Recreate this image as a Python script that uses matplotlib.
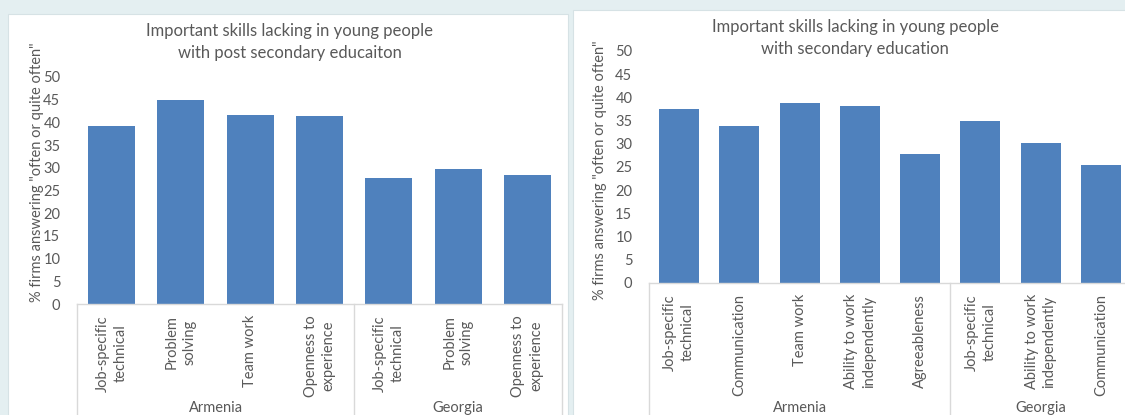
import matplotlib.pyplot as plt
from matplotlib.patches import Rectangle
import matplotlib.transforms as mtransforms

plt.rcParams['font.family'] = ['Lato', 'DejaVu Sans']

# post secondary chart
post_labels = ['Job-specific\ntechnical', 'Problem\nsolving', 'Team work', 'Openness to\nexperience',
               'Job-specific\ntechnical', 'Problem\nsolving', 'Openness to\nexperience']
post_values = [39.3, 45.0, 41.6, 41.4, 27.7, 29.8, 28.4]
post_groups = ['Armenia', 'Georgia']
post_group_sizes = [4, 3]

# secondary chart
sec_labels = ['Job-specific\ntechnical', 'Communication', 'Team work', 'Ability to work\nindependently',
              'Agreeableness', 'Job-specific\ntechnical', 'Ability to work\nindependently', 'Communication']
sec_values = [37.5, 33.9, 38.7, 38.2, 27.9, 34.9, 30.2, 25.5]
sec_groups = ['Armenia', 'Georgia']
sec_group_sizes = [5, 3]

ylabel = '% firms answering "often or quite often"'
BAR = '#4f81bd'
TXT = '#595959'
GRID = '#d9d9d9'
BG = '#e4eff1'

W, H = 1125, 415
fig = plt.figure(figsize=(W / 100, H / 100), dpi=100, facecolor=BG)


def px_rect(x0, y0, x1, y1):
    # pixel box (top-left origin) -> figure fraction [l, b, w, h]
    return [x0 / W, 1 - y1 / H, (x1 - x0) / W, (y1 - y0) / H]


# white panels
for x0, y0, x1, y1 in [(8, 14, 568, 420), (573, 10, 1135, 420)]:
    l, b, w, h = px_rect(x0, y0, x1, y1)
    fig.patches.append(Rectangle((l, b), w, h, transform=fig.transFigure,
                                 facecolor='white', edgecolor='#d6e2e5', lw=0.8, zorder=-5))


def draw(rect, labels, values, groups, sizes, width, title, title_xy, ylab_xy):
    ax = fig.add_axes(px_rect(*rect))
    ax.set_facecolor('none')
    n = len(values)
    ax.bar(range(n), values, width=width, color=BAR, zorder=2)
    ax.set_xlim(-0.5, n - 0.5)
    ax.set_ylim(0, 50)
    ax.set_yticks(range(0, 51, 5))
    ax.set_xticks(range(n))
    ax.set_xticklabels(labels, rotation=90, ha='center', va='top',
                       multialignment='center', fontsize=10.5, color=TXT,
                       linespacing=1.35)
    ax.tick_params(axis='x', length=0, pad=8)
    ax.tick_params(axis='y', length=0, pad=12, labelsize=10.5, labelcolor=TXT)
    for s in ['top', 'right', 'left']:
        ax.spines[s].set_visible(False)
    ax.spines['bottom'].set_color(GRID)
    ax.spines['bottom'].set_linewidth(1)

    # multi-level category axis: separators and group names
    trans = mtransforms.blended_transform_factory(ax.transData, ax.transAxes)
    axh = rect[3] - rect[1]
    grp_y = -(408 - rect[3]) / axh
    pos = -0.5
    ax.plot([pos, pos], [0, -1], transform=trans, color=GRID, lw=1, clip_on=False)
    for g, k in zip(groups, sizes):
        ax.text(pos + k / 2, grp_y, g, transform=trans, ha='center', va='center',
                fontsize=10.5, color=TXT)
        pos += k
        ax.plot([pos, pos], [0, -1], transform=trans, color=GRID, lw=1, clip_on=False)

    fig.text(title_xy[0] / W, 1 - title_xy[1] / H, title, ha='center', va='center',
             fontsize=12, color=TXT, linespacing=1.4)
    fig.text(ylab_xy[0] / W, 1 - ylab_xy[1] / H, ylabel, rotation=90, ha='center',
             va='center', fontsize=10.5, color=TXT)
    return ax


draw((77, 77, 562, 304), post_labels, post_values, post_groups, post_group_sizes, 0.68,
     'Important skills lacking in young people\nwith post secondary educaiton', (290, 42), (37, 172))
draw((649, 51, 1131, 283), sec_labels, sec_values, sec_groups, sec_group_sizes, 0.66,
     'Important skills lacking in young people\nwith secondary education', (855, 38), (600, 170))

fig.savefig('out.png', dpi=100, facecolor=BG)
